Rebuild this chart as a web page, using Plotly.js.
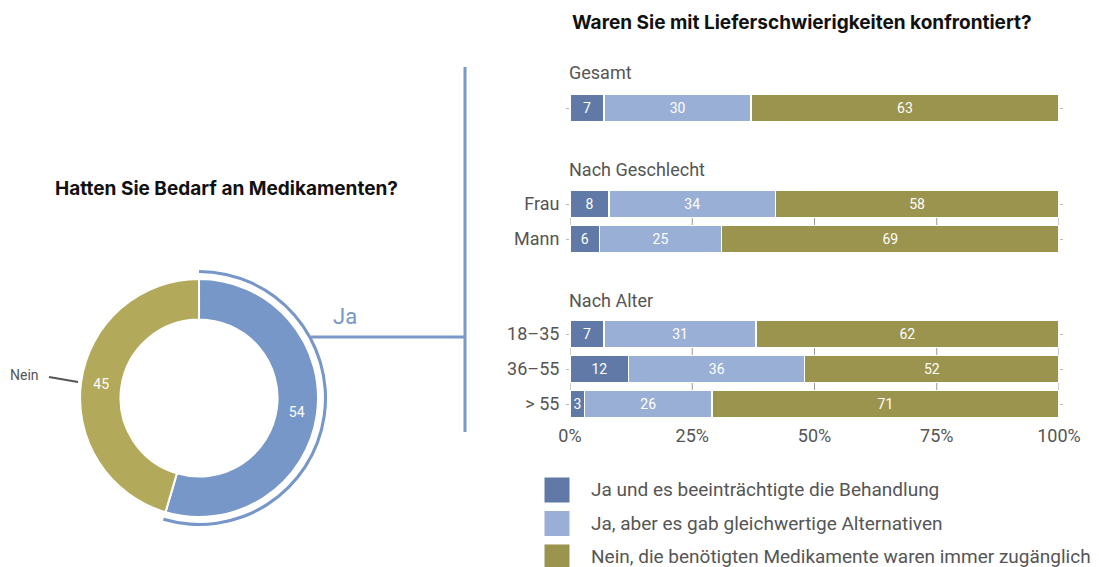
<!DOCTYPE html>
<html>
<head>
<meta charset="utf-8">
<script src="https://cdn.plot.ly/plotly-3.0.1.min.js"></script>
<style>
  html, body { margin: 0; padding: 0; background: #fff; }
  #chart { width: 1099px; height: 567px; }
</style>
</head>
<body>
<div id="chart"></div>
<script>
// donut: Hatten Sie Bedarf an Medikamenten?
var needLabels = ['Ja', 'Nein'];
var needValues = [54, 45];

// stacked bars: Waren Sie mit Lieferschwierigkeiten konfrontiert?
var rowLabels = ['', 'Frau', 'Mann', '18–35', '36–55', '> 55'];
var rowPos = [0, 2.743, 3.743, 6.457, 7.457, 8.457];
var seriesNames = [
    'Ja und es beeinträchtigte die Behandlung',
    'Ja, aber es gab gleichwertige Alternativen',
    'Nein, die benötigten Medikamente waren immer zugänglich'
];
var jaBeeintr = [7, 8, 6, 7, 12, 3];
var jaAlternativ = [30, 34, 25, 31, 36, 26];
var neinZugang = [63, 58, 69, 62, 52, 71];
var groupHeads = ['Gesamt', 'Nach Geschlecht', 'Nach Alter'];
var groupHeadPos = [-1.0, 1.743, 5.486];
var xTicks = [0, 25, 50, 75, 100];
var xTickText = ['0%', '25%', '50%', '75%', '100%'];

var barColors = ['#6179a7', '#9aafd6', '#9b944e'];
var donutColors = ['#7797c8', '#b3a95a'];
var txtGray = '#555555';
var fontMain = 'Roboto, "Liberation Sans", sans-serif';

var data = [];

// donut
data.push({
    type: 'pie',
    labels: needLabels,
    values: needValues,
    sort: false,
    direction: 'clockwise',
    rotation: 0,
    hole: 0.66,
    domain: { x: [0.0728, 0.2894], y: [0.0882, 0.5079] },
    marker: { colors: donutColors, line: { color: '#fff', width: 2 } },
    textinfo: 'value',
    textposition: 'inside',
    insidetextorientation: 'horizontal',
    textfont: { color: '#fff', size: 14, family: fontMain },
    showlegend: false,
    hoverinfo: 'label+value'
});

// thin outer arc around the "Ja" part
data.push({
    type: 'pie',
    labels: needLabels,
    values: needValues,
    sort: false,
    direction: 'clockwise',
    rotation: 0,
    hole: 0.976,
    domain: { x: [0.0646, 0.2976], y: [0.0723, 0.5238] },
    marker: { colors: [donutColors[0], 'rgba(0,0,0,0)'], line: { width: 0 } },
    textinfo: 'none',
    showlegend: false,
    hoverinfo: 'skip'
});

// stacked bars
var seriesVals = [jaBeeintr, jaAlternativ, neinZugang];
for (var s = 0; s < 3; s++) {
    data.push({
        type: 'bar',
        orientation: 'h',
        name: seriesNames[s],
        x: seriesVals[s],
        y: rowPos,
        width: 0.8,
        marker: { color: barColors[s], line: { color: '#fff', width: 1.5 } },
        text: seriesVals[s].map(String),
        textposition: 'inside',
        insidetextanchor: 'middle',
        constraintext: 'none',
        textfont: { color: '#fff', size: 14, family: fontMain },
        showlegend: false,
        hovertemplate: '%{x}<extra>' + seriesNames[s] + '</extra>'
    });
}

// little axis ticks between neighbouring rows
var gapX = [], gapY = [];
[[1, 2], [3, 4], [4, 5]].forEach(function (p) {
    xTicks.forEach(function (t) {
        gapX.push(t);
        gapY.push((rowPos[p[0]] + rowPos[p[1]]) / 2);
    });
});
data.push({
    type: 'scatter',
    mode: 'markers',
    x: gapX,
    y: gapY,
    marker: { symbol: 'line-ns', size: 5, line: { color: '#999', width: 1 } },
    showlegend: false,
    hoverinfo: 'skip'
});

// hand-made legend with big squares
data.push({
    type: 'scatter',
    mode: 'markers',
    xaxis: 'x2',
    yaxis: 'y2',
    x: [17, 17, 17],
    y: [0, 1, 2],
    marker: { symbol: 'square', size: 25, color: barColors },
    showlegend: false,
    hoverinfo: 'skip'
});

var annotations = [
    {
        text: '<b>Waren Sie mit Lieferschwierigkeiten konfrontiert?</b>',
        xref: 'paper', yref: 'paper', x: 570 / 1099, y: 1 - 22 / 567,
        xanchor: 'left', yanchor: 'middle', showarrow: false,
        font: { size: 19, color: '#111', family: 'Inter, Roboto, sans-serif' }
    },
    {
        text: '<b>Hatten Sie Bedarf an Medikamenten?</b>',
        xref: 'paper', yref: 'paper', x: 226 / 1099, y: 1 - 188 / 567,
        xanchor: 'center', yanchor: 'middle', showarrow: false,
        font: { size: 19, color: '#111', family: 'Inter, Roboto, sans-serif' }
    },
    {
        text: 'Ja',
        xref: 'paper', yref: 'paper', x: 331 / 1099, y: 1 - 316 / 567,
        xanchor: 'left', yanchor: 'middle', showarrow: false,
        font: { size: 22, color: donutColors[0], family: fontMain }
    },
    {
        text: 'Nein',
        xref: 'paper', yref: 'paper', x: 8 / 1099, y: 1 - 375 / 567,
        xanchor: 'left', yanchor: 'middle', showarrow: false,
        font: { size: 14, color: txtGray, family: fontMain }
    }
];
groupHeads.forEach(function (g, i) {
    annotations.push({
        text: g, xref: 'x', yref: 'y', x: 0, y: groupHeadPos[i], xshift: -3,
        xanchor: 'left', yanchor: 'middle', showarrow: false,
        font: { size: 18, color: txtGray, family: fontMain }
    });
});
seriesNames.forEach(function (n, i) {
    annotations.push({
        text: n, xref: 'x2', yref: 'y2', x: 49, y: i,
        xanchor: 'left', yanchor: 'middle', showarrow: false,
        font: { size: 19, color: txtGray, family: fontMain }
    });
});

var shapes = [
    // divider line
    { type: 'line', xref: 'paper', yref: 'paper', x0: 465 / 1099, x1: 465 / 1099,
      y0: 1 - 67 / 567, y1: 1 - 432 / 567, line: { color: '#7b98c9', width: 3 } },
    // connector from the Ja arc
    { type: 'line', xref: 'paper', yref: 'paper', x0: 311 / 1099, x1: 465 / 1099,
      y0: 1 - 337 / 567, y1: 1 - 337 / 567, line: { color: '#7b98c9', width: 3 } },
    // Nein pointer
    { type: 'line', xref: 'paper', yref: 'paper', x0: 49 / 1099, x1: 78 / 1099,
      y0: 1 - 377 / 567, y1: 1 - 382 / 567, line: { color: '#555', width: 2 } }
];

var layout = {
    width: 1099,
    height: 567,
    margin: { l: 0, r: 0, t: 0, b: 0 },
    paper_bgcolor: '#fff',
    plot_bgcolor: 'rgba(0,0,0,0)',
    barmode: 'stack',
    font: { family: fontMain, color: txtGray },
    showlegend: false,
    xaxis: {
        domain: [570 / 1099, 1059 / 1099],
        range: [0, 100],
        tickmode: 'array',
        tickvals: xTicks,
        ticktext: xTickText,
        showgrid: false,
        zeroline: false,
        showline: false,
        ticks: '',
        ticklabelstandoff: 3,
        tickfont: { size: 18, color: txtGray },
        fixedrange: true
    },
    yaxis: {
        domain: [1 - 420 / 567, 1 - 73 / 567],
        range: [8.914, -1],
        tickmode: 'array',
        tickvals: rowPos,
        ticktext: rowLabels,
        showgrid: false,
        zeroline: false,
        showline: false,
        ticks: 'outside',
        ticklen: 3,
        tickcolor: '#bbb',
        mirror: 'ticks',
        ticklabelstandoff: 3,
        tickfont: { size: 18, color: txtGray },
        fixedrange: true
    },
    xaxis2: {
        domain: [540 / 1099, 1],
        range: [0, 559],
        visible: false,
        fixedrange: true
    },
    yaxis2: {
        domain: [0, 1 - 473.25 / 567],
        range: [2.3, -0.5],
        visible: false,
        fixedrange: true
    },
    annotations: annotations,
    shapes: shapes
};

Plotly.newPlot('chart', data, layout, { displayModeBar: false, responsive: false });
</script>
</body>
</html>
